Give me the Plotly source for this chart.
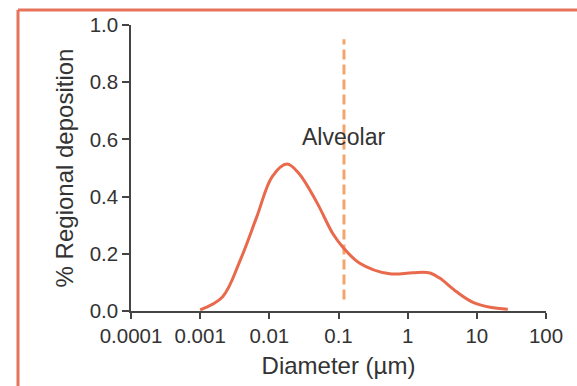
import plotly.graph_objects as go
import math

# Data
diameter_um = [0.001, 0.0021, 0.0038, 0.0066, 0.011, 0.018, 0.027, 0.049, 0.083, 0.115,
               0.2, 0.55, 1.18, 2.1, 2.9, 5.1, 8.8, 15.5, 28]
deposition = [0.004, 0.049, 0.178, 0.33, 0.47, 0.514, 0.48, 0.378, 0.27, 0.224,
              0.168, 0.13, 0.134, 0.133, 0.115, 0.067, 0.03, 0.013, 0.006]

alveolar_cutoff_um = 0.12
cutoff_y = [0.04, 0.95]

x_tickvals = [0.0001, 0.001, 0.01, 0.1, 1, 10, 100]
x_ticktext = ["0.0001", "0.001", "0.01", "0.1", "1", "10", "100"]
y_tickvals = [0.0, 0.2, 0.4, 0.6, 0.8, 1.0]

FONT = "Liberation Sans, Arial, Helvetica, sans-serif"
AXIS = "#444444"
TXT = "#333333"

fig = go.Figure()
fig.add_trace(go.Scatter(
    x=[alveolar_cutoff_um, alveolar_cutoff_um], y=cutoff_y, mode="lines",
    line=dict(color="#F2A66E", width=3, dash="10px,5px"), hoverinfo="skip"))
fig.add_trace(go.Scatter(
    x=diameter_um, y=deposition, mode="lines",
    line=dict(color="#E8694C", width=3, shape="spline", smoothing=1.0)))

fig.add_annotation(x=math.log10(alveolar_cutoff_um), y=0.608, xref="x", yref="y",
                   text="Alveolar", showarrow=False, xanchor="center", yanchor="middle",
                   font=dict(family=FONT, size=23, color=TXT))

# decorative frame: top and left edges only (right/bottom fall outside the picture)
bx0, bx1 = (18 - 131) / 415, (577 - 131) / 415
by0, by1 = (311 - 386) / 286, (311 - 10) / 286
border = dict(color="#E8735A", width=3)
fig.add_shape(type="line", xref="paper", yref="paper", x0=bx0, x1=bx1, y0=by1, y1=by1,
              line=border, layer="below")
fig.add_shape(type="line", xref="paper", yref="paper", x0=bx0, x1=bx0, y0=by0, y1=by1,
              line=border, layer="below")

fig.update_layout(
    width=577, height=386,
    margin=dict(l=131, r=31, t=25, b=75),
    paper_bgcolor="white", plot_bgcolor="white",
    showlegend=False,
    font=dict(family=FONT, color=TXT),
    xaxis=dict(type="log", range=[-4, 2], tickvals=x_tickvals, ticktext=x_ticktext,
               showline=True, linecolor=AXIS, linewidth=1.5, ticks="outside",
               ticklen=6, tickwidth=1.5, tickcolor=AXIS, showgrid=False, zeroline=False,
               tickfont=dict(family=FONT, size=20.5, color=TXT),
               title=dict(text="Diameter (\u00b5m)", font=dict(family=FONT, size=24, color=TXT),
                          standoff=11),
               automargin=False),
    yaxis=dict(range=[0, 1], tickvals=y_tickvals, tickformat=".1f",
               showline=True, linecolor=AXIS, linewidth=1.5, ticks="outside",
               ticklen=7, tickwidth=1.5, tickcolor=AXIS, showgrid=False, zeroline=False,
               tickfont=dict(family=FONT, size=20.5, color=TXT),
               title=dict(text="% Regional deposition", font=dict(family=FONT, size=24, color=TXT),
                          standoff=9),
               automargin=False),
)

fig.write_html("out.html", config={"displayModeBar": False},
               post_script="document.body.style.margin='0';")
